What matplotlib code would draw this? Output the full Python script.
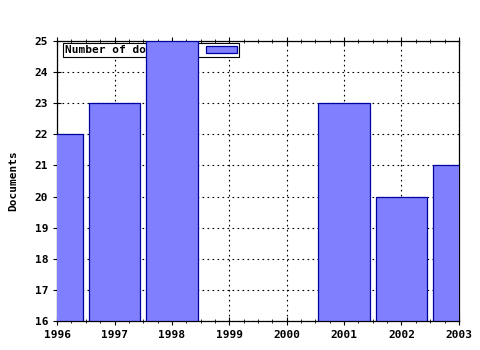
import numpy as np
import matplotlib
matplotlib.use("Agg")
import matplotlib.pyplot as plt
from matplotlib.ticker import MultipleLocator

years = [1996, 1997, 1998, 1999, 2000, 2001, 2002, 2003]
documents = [22, 23, 25, np.nan, np.nan, 23, 20, 21]
series_label = "Number of documents"

font = {"family": "DejaVu Sans Mono", "weight": "bold", "size": 8}

fig = plt.figure(figsize=(4.8, 3.5), dpi=100)
ax = fig.add_axes([0.119, 0.083, 0.837, 0.8])

x = np.array(years, dtype=float)
y = np.array(documents, dtype=float)
has = ~np.isnan(y)
bars = ax.bar(x[has], y[has] - 16, bottom=16, width=0.9,
              color="#8080ff", edgecolor="#0000a0", linewidth=0.9,
              zorder=3, label=series_label)

ax.set_xlim(1996, 2003)
ax.set_ylim(16, 25)
ax.xaxis.set_minor_locator(MultipleLocator(0.25))

ax.grid(True, which="major", color="black", linestyle=(0, (1.5, 3)),
        linewidth=0.8, zorder=0)
ax.set_axisbelow(True)

ax.tick_params(axis="both", which="major", direction="inout", length=6,
               width=0.8, top=True, right=False)
ax.tick_params(axis="x", which="minor", direction="inout", length=3,
               width=0.6, top=True)
ax.set_xticks(years)
ax.set_xticklabels([str(v) for v in years], fontdict=font)
ax.set_yticks(range(16, 26))
ax.set_yticklabels([str(v) for v in range(16, 26)], fontdict=font)

ax.set_ylabel("Documents", fontdict=font, labelpad=12)

leg = ax.legend(loc="upper left", bbox_to_anchor=(0.015, 0.993),
                prop={"family": "DejaVu Sans Mono", "weight": "bold", "size": 8},
                fancybox=False, framealpha=1, edgecolor="black",
                borderpad=0.2, handlelength=2.8, handleheight=0.6,
                markerfirst=False, handletextpad=1.1, borderaxespad=0)
leg.get_frame().set_linewidth(0.8)
leg.set_zorder(2)

for s in ax.spines.values():
    s.set_linewidth(0.9)

fig.savefig("out.png", dpi=100)
